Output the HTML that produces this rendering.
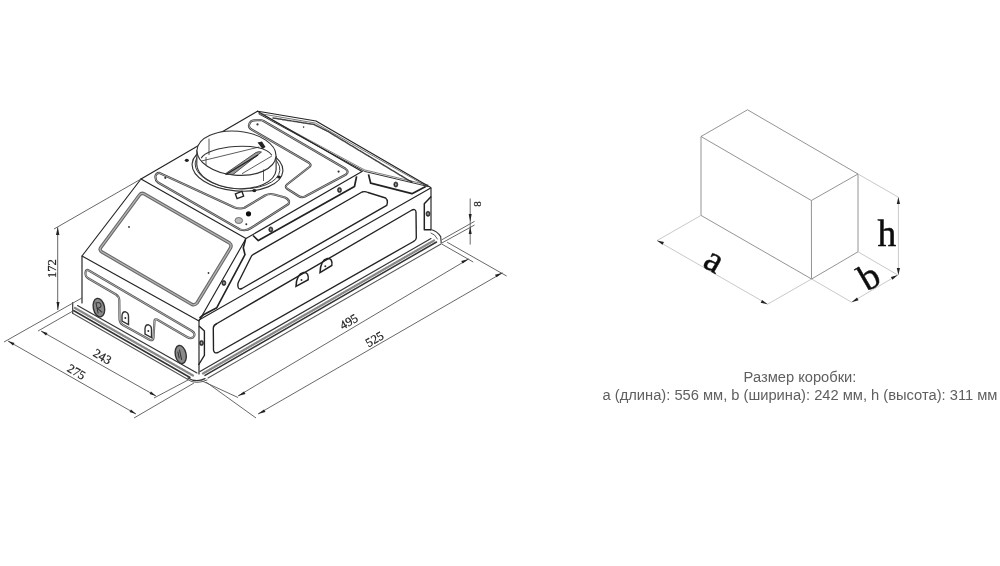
<!DOCTYPE html>
<html><head><meta charset="utf-8">
<style>
html,body{margin:0;padding:0;background:#fff;width:1000px;height:566px;overflow:hidden}
svg{position:absolute;left:0;top:0}
</style></head><body>
<svg width="1000" height="566" viewBox="0 0 1000 566">
<defs><filter id="bl" x="-5%" y="-5%" width="110%" height="110%"><feGaussianBlur stdDeviation="0.4"/></filter>
<filter id="bl2" x="-5%" y="-5%" width="110%" height="110%"><feGaussianBlur stdDeviation="0.3"/></filter></defs>
<g filter="url(#bl)">
<g fill="none" stroke="#222" stroke-width="1.15" stroke-linejoin="round" stroke-linecap="round">
<!-- top panel -->
<polyline points="141,179 257.5,111.2 362,171.5"/>
<polyline points="141,179 246,238.5 362,171.5"/>
<!-- front slope -->
<polyline points="141,179 82,256 199,321 246,238.5"/>
<!-- front vertical face -->
<polyline points="82,256 82,303"/>
<line x1="199" y1="321" x2="199" y2="374"/>
<!-- right face top edge -->
<line x1="199" y1="320" x2="430.7" y2="188"/>
<line x1="431" y1="188" x2="431" y2="230"/>
<!-- raised back plate -->
<polyline points="257.5,111.2 264,112.2 316,121 430.7,187.5"/>
<polyline points="259,113.3 264,114.3 315.5,123.1 427,186.5" stroke="#555" stroke-width="0.80"/>
<polyline points="273,118 314,124.5 328,131.5 409,180.5 412,182" stroke="#444" stroke-width="1.49" stroke-dasharray="1.5 0.8"/>
<polyline points="259,114 362,170 365,171.5 428,186.5" stroke-width="0.92"/>
<polyline points="261,114 362,168.5 365,170 428,185" stroke-width="0.57"/>
</g>



<!-- top panel plates -->
<g fill="none" stroke-linejoin="round">
<path d="M155.5,176 Q156,173 159,172.8 L234,207.2 Q239.5,209.5 244.5,207.8 L265,195.5 Q269.5,193.2 274,194.5 L285,197.5 Q290.5,200 288.5,204 L251,228 Q246,231.5 240,229.5 L158,182.5 Q155,180 155.5,176 Z" stroke="#444" stroke-width="2.18"/><path d="M155.5,176 Q156,173 159,172.8 L234,207.2 Q239.5,209.5 244.5,207.8 L265,195.5 Q269.5,193.2 274,194.5 L285,197.5 Q290.5,200 288.5,204 L251,228 Q246,231.5 240,229.5 L158,182.5 Q155,180 155.5,176 Z" stroke="#d0d0d0" stroke-width="0.69"/>
<path d="M249,125 Q250,120.5 254,120.3 L260.7,120 Q262,120.2 263.5,121 L345.5,168.8 Q349.5,171.5 346,174.5 L305,196.5 Q301.5,198 298.5,196 L287.5,189 Q284.5,186.8 287,184.5 L310,166.5 Q311.5,164.5 309,162.8 L252,129.8 Q248.5,128 249,125 Z" stroke="#444" stroke-width="2.18"/><path d="M249,125 Q250,120.5 254,120.3 L260.7,120 Q262,120.2 263.5,121 L345.5,168.8 Q349.5,171.5 346,174.5 L305,196.5 Q301.5,198 298.5,196 L287.5,189 Q284.5,186.8 287,184.5 L310,166.5 Q311.5,164.5 309,162.8 L252,129.8 Q248.5,128 249,125 Z" stroke="#d0d0d0" stroke-width="0.69"/>
</g>
<g fill="#333">
<circle cx="165.3" cy="177.8" r="1.1"/>
<circle cx="257.5" cy="124.4" r="1.1"/>
<circle cx="338.6" cy="171.6" r="1.1"/>
<circle cx="303.6" cy="127.1" r="0.8"/>
<circle cx="248.5" cy="213.8" r="2.6" fill="#111"/>
<circle cx="246.3" cy="224.3" r="1"/>
</g>
<ellipse cx="238.8" cy="220.5" rx="3.8" ry="3" fill="#bbb" stroke="#666" stroke-width="0.92"/>
<!-- duct -->
<g fill="none" stroke="#333" stroke-width="1.15">
<ellipse cx="237.5" cy="167.5" rx="45.5" ry="23.5" transform="rotate(5 237.5 167.5)"/>
<ellipse cx="237.5" cy="166.8" rx="42.5" ry="21.8" transform="rotate(5 237.5 166.8)" stroke-width="0.92"/>
<path d="M197,150 L196.8,163 A39.6,22 5 0 0 276.1,170 L276.1,156" fill="#fff"/>
<ellipse cx="236.5" cy="153.2" rx="39.6" ry="22" transform="rotate(5 236.5 153.2)" fill="#fff"/>
<path d="M201.2,158.2 C207,146 262,140 271.9,155.3" stroke-width="1.03"/>
<line x1="209" y1="138.6" x2="209" y2="155" stroke-width="0.80"/>
<line x1="206" y1="157" x2="206" y2="165" stroke-width="0.80"/>
<line x1="263.5" y1="169.5" x2="263.5" y2="181" stroke-width="0.80"/>
<line x1="201.5" y1="161" x2="259.2" y2="147" stroke-width="0.80"/>
<line x1="242" y1="173.7" x2="271.9" y2="156" stroke-width="0.80"/>
<path d="M225,174 L256,152.5 Q259,151 261.5,152 L233,174.5 Z" fill="#999" stroke-width="0.80"/>
<path d="M226,174.5 L258,155" stroke="#222" stroke-width="1.38"/>
</g>
<g fill="#222">
<path d="M257.5,142.5 L262,141.5 L265.5,147 L262.5,149 Z"/>
<ellipse cx="186.8" cy="160.3" rx="2" ry="1.6"/>
<ellipse cx="279" cy="177" rx="2" ry="1.6"/>
<ellipse cx="254.3" cy="190.6" rx="2" ry="1.6"/>
</g>
<rect x="236" y="192.5" width="7" height="5" fill="none" stroke="#222" stroke-width="1.38" transform="rotate(-20 239.5 195)"/>
<!-- front slope window band -->
<path d="M139.5,195 Q141.5,192.5 144,193.8 L229.5,243 Q232,245 230.5,248 L197,303 Q195,305.5 192,304.5 L102,252 Q99,250 100.8,247.5 Z" fill="none" stroke="#6a6a6a" stroke-width="3.45"/><path d="M139.5,195 Q141.5,192.5 144,193.8 L229.5,243 Q232,245 230.5,248 L197,303 Q195,305.5 192,304.5 L102,252 Q99,250 100.8,247.5 Z" fill="none" stroke="#b5b5b5" stroke-width="1.26"/>
<circle cx="129" cy="227" r="0.9" fill="#333"/>
<circle cx="208.5" cy="273" r="0.9" fill="#333"/>
<!-- front slope right side bracket -->
<g fill="none" stroke="#222" stroke-linejoin="round">
<polyline points="245.5,239.5 243.3,247.7 245,254.7 216.8,307.7 203.5,314.8 199.5,318" stroke-width="1.61"/>
<ellipse cx="223.9" cy="283" rx="2" ry="2.6" fill="#333" stroke="#222" stroke-width="0.69"/><ellipse cx="223.9" cy="283" rx="0.8" ry="1.2" fill="#aaa" stroke="none"/>
<!-- bracket 1 along L1 -->
<polyline points="253,235.5 258.3,240.6 354.5,186.5 356.6,176.4" stroke-width="1.72"/>
<!-- bracket 2 on back -->
<polyline points="368.5,174.4 370.7,183.2 412,193.7 425.7,186.5" stroke-width="1.72"/>
<ellipse cx="339.5" cy="190" rx="2" ry="2.6" fill="#333" stroke="#222" stroke-width="0.69"/><ellipse cx="339.5" cy="190" rx="0.8" ry="1.2" fill="#aaa" stroke="none"/>
<ellipse cx="395.8" cy="184.5" rx="2" ry="2.6" fill="#333" stroke="#222" stroke-width="0.69"/><ellipse cx="395.8" cy="184.5" rx="0.8" ry="1.2" fill="#aaa" stroke="none"/>
<ellipse cx="270.8" cy="229.5" rx="2" ry="2.6" fill="#333" stroke="#222" stroke-width="0.69"/><ellipse cx="270.8" cy="229.5" rx="0.8" ry="1.2" fill="#aaa" stroke="none"/>
<!-- window 1 slot on chamfer -->
<path d="M253,254.7 L362,192 Q365,191 368,192.5 L385.6,198 Q388.5,200.5 386.7,205.4 L242,288.5 Q238.5,290 238,286.5 Q237.5,284 238.5,282 L251,257 Q251.5,255.5 253,254.7 Z" stroke-width="1.38"/>
<!-- window 2 on vertical face -->
<path d="M217,323.5 L412,210 Q415.5,208.5 416,212 L416.3,238 Q416,240.5 413.5,241.5 L218,352.5 Q214,354 213.5,350 L213.3,328 Q213.5,325 217,323.5 Z" stroke-width="1.38"/>
<!-- tab right back -->
<polyline points="431.2,196.4 424.3,203.8 424.3,229.7 431,229.7" stroke-width="1.49"/>
<ellipse cx="428" cy="213.8" rx="2" ry="2.6" fill="#333" stroke="#222" stroke-width="0.69"/><ellipse cx="428" cy="213.8" rx="0.8" ry="1.2" fill="#aaa" stroke="none"/>
<!-- tab front right -->
<polyline points="199,326 204.4,331 204.4,355.4 198.5,365" stroke-width="1.38"/>
<ellipse cx="201.5" cy="343" rx="2" ry="2.6" fill="#333" stroke="#222" stroke-width="0.69"/><ellipse cx="201.5" cy="343" rx="0.8" ry="1.2" fill="#aaa" stroke="none"/>
</g>
<!-- arch icons on right face -->
<g fill="none" stroke="#222" stroke-width="1.49">
<path d="M296,286.4 L308.2,279.7 Q309,272 303.5,272.5 Q296.5,274 296,286.4 Z"/>
<path d="M320,272.6 L331.8,265.5 Q332.8,258 327.3,258.5 Q320.5,260 320,272.6 Z"/>
</g>
<g fill="#333"><circle cx="301.5" cy="280" r="1"/><circle cx="325.3" cy="266.2" r="1"/></g>
<!-- front face profile -->
<g fill="none"><path d="M88,270 L192,331 Q196.5,334 193,337.5 Q190.5,339 187,337 L157,319.5 Q154.5,318.5 154.5,321 L153.5,338 Q153,341 150,340 L123,325 Q119.5,323 119.5,319 L119.3,300 Q119,296.5 116,294.5 L88.5,278.5 Q85,276.5 85.5,272.5 Q86,269.5 88,270 Z" stroke="#555" stroke-width="2.18"/><path d="M88,270 L192,331 Q196.5,334 193,337.5 Q190.5,339 187,337 L157,319.5 Q154.5,318.5 154.5,321 L153.5,338 Q153,341 150,340 L123,325 Q119.5,323 119.5,319 L119.3,300 Q119,296.5 116,294.5 L88.5,278.5 Q85,276.5 85.5,272.5 Q86,269.5 88,270 Z" stroke="#d5d5d5" stroke-width="0.69"/></g>
<g>
<g transform="rotate(-12 98.9 307.6)"><ellipse cx="98.9" cy="307.6" rx="5.6" ry="9.4" fill="#8a8a8a" stroke="#333" stroke-width="1.38"/>
<path d="M97,302 L97,313 M97,302.5 Q101.5,302 101.5,305.5 Q101.5,308 97.5,308 L101,313" fill="none" stroke="#333" stroke-width="1.03"/></g>
<g transform="rotate(-12 180.7 354.5)"><ellipse cx="180.7" cy="354.5" rx="5.4" ry="9.2" fill="#8a8a8a" stroke="#333" stroke-width="1.38"/>
<path d="M180.5,349.5 L180.5,360 M178.5,351 L178.5,358" fill="none" stroke="#333" stroke-width="1.03"/></g>
</g>
<g fill="none" stroke="#333" stroke-width="1.38">
<path d="M122,321 L122,315.5 Q122.5,311.5 125.5,311.8 Q128.5,312.5 128.5,316.5 L128.5,324.5 Z"/>
<path d="M145,334 L145,328.5 Q145.5,324.5 148.5,324.8 Q151.5,325.5 151.5,329.5 L151.5,337.5 Z"/>
</g>
<g fill="#333"><circle cx="125.3" cy="318" r="1"/><circle cx="148.3" cy="331" r="1"/></g>
<!-- flange front-left -->
<g fill="none" stroke="#333" stroke-linecap="round">
<polyline points="72.7,302.5 72.7,313.5" stroke-width="1.15"/>
<line x1="77.5" y1="305.5" x2="197" y2="373" stroke-width="1.15"/>
<line x1="75" y1="308" x2="193" y2="375.5" stroke="#888" stroke-width="2.30" stroke-dasharray="0.6 0.6"/>
<line x1="73.5" y1="310.5" x2="190" y2="377.5" stroke-width="1.49"/>
<line x1="73" y1="313.5" x2="188" y2="379.5" stroke="#555" stroke-width="1.03"/>
<path d="M188,378 Q196,383 205,378.6" stroke-width="1.26"/>
<path d="M188,379.8 Q196,385 207,380" stroke-width="0.80"/>
<!-- flange right -->
<line x1="200" y1="371.4" x2="431" y2="238.5" stroke-width="1.15"/>
<line x1="203" y1="373.5" x2="434" y2="240.5" stroke="#888" stroke-width="2.30" stroke-dasharray="0.6 0.6"/>
<line x1="205" y1="375.4" x2="436.5" y2="242" stroke-width="1.49"/>
<line x1="208" y1="378" x2="441" y2="244" stroke="#555" stroke-width="1.03"/>
<path d="M431.7,229.7 Q437,231 440.7,236.6 L441.2,243" stroke-width="1.15"/>
<path d="M431,233 Q435,234 437.5,239" stroke-width="0.80"/>
</g>
<!-- dimension lines -->
<g fill="none" stroke="#5a5a5a" stroke-width="0.92">
<line x1="141" y1="179" x2="54" y2="229"/>
<line x1="57.7" y1="227.2" x2="57.7" y2="310"/>
<line x1="82.2" y1="297.8" x2="4" y2="342"/>
<line x1="73.8" y1="310.5" x2="38" y2="331"/>
<line x1="8" y1="341" x2="136" y2="414"/>
<line x1="41" y1="331" x2="156" y2="396"/>
<line x1="188" y1="380" x2="154" y2="398"/>
<line x1="194" y1="383" x2="134" y2="418"/>
<line x1="200" y1="380" x2="238" y2="397.5"/>
<line x1="206" y1="382" x2="256" y2="418"/>
<line x1="238" y1="396" x2="468.7" y2="258.9"/>
<line x1="258" y1="414" x2="502.5" y2="272.8"/>
<line x1="441.7" y1="244" x2="473.2" y2="262"/>
<line x1="447.1" y1="242.2" x2="506.6" y2="276"/>
<line x1="441.8" y1="239.8" x2="474.6" y2="221.3"/>
<line x1="441.8" y1="243" x2="474.6" y2="225"/>
<line x1="470.2" y1="198.5" x2="470.2" y2="244.6"/>
</g>
<g fill="#222" stroke="none">
<!-- arrowheads -->
<polygon points="57.7,227.2 56,235 59.4,235"/>
<polygon points="58,310 56.5,302 59.5,302"/>
<polygon points="8,341 14.5,343 13,345.5"/>
<polygon points="136,414 129.5,412 131,409.5"/>
<polygon points="41,331 47.5,333 46,335.5"/>
<polygon points="156,396 149.5,394 151,391.5"/>
<polygon points="238,396 244,391.5 245.5,394"/>
<polygon points="258,414 264,409.5 265.5,412"/>
<polygon points="468.7,258.9 462.7,263.4 461.2,260.9"/>
<polygon points="502.5,272.8 496.5,277.3 495,274.8"/>
<polygon points="470.2,221.8 468.7,214 471.7,214"/>
<polygon points="470.2,226.5 468.7,234 471.7,234"/>
</g>
<g font-family="'Liberation Serif', serif" font-size="12.5" fill="#222" stroke="#222" stroke-width="0.23" text-anchor="middle">
<text transform="translate(56.3,268.6) rotate(-90)">172</text>
<text transform="translate(100.3,360.3) rotate(30)">243</text>
<text transform="translate(74.4,375.5) rotate(30)">275</text>
<text transform="translate(350.9,325.2) rotate(-30)">495</text>
<text transform="translate(376.6,342.7) rotate(-30)">525</text>
<text font-size="11" transform="translate(480.5,204) rotate(-90)">8</text>
</g>

</g>
<g filter="url(#bl2)">
<!-- box diagram -->
<g fill="none" stroke="#888" stroke-width="0.9">
<polyline points="701,215.4 701,136.5 747.5,109.8 858,174 858,251.8 811.6,279 701,215.4"/>
<polyline points="701,136.5 811.4,200.5 858,174"/>
<line x1="811.4" y1="200.5" x2="811.5" y2="279"/>
</g>
<g fill="none" stroke="#bbb" stroke-width="0.8">
<line x1="701" y1="215.4" x2="657" y2="240.6"/>
<line x1="811.6" y1="279" x2="767.6" y2="304.2"/>
<line x1="811.6" y1="279" x2="851.6" y2="302.2"/>
<line x1="858" y1="251.8" x2="897.8" y2="275"/>
<line x1="858" y1="174" x2="898" y2="197"/>
<line x1="657" y1="240.6" x2="767.6" y2="304.2"/>
<line x1="851.6" y1="302.2" x2="897.8" y2="275"/>
<line x1="898.4" y1="197" x2="898.4" y2="275"/>
</g>
<g fill="#222">
<polygon points="657,240.6 664,242 662.5,244.8"/>
<polygon points="767.6,304.2 760.6,302.8 762.1,300"/>
<polygon points="851.6,302.2 857,297.5 858.5,300.3"/>
<polygon points="897.8,275 892.4,279.7 890.9,276.9"/>
<polygon points="898.4,197 896.8,204 900,204"/>
<polygon points="898.4,275 896.8,268 900,268"/>
</g>
<g font-family="'Liberation Serif', serif" fill="#111" stroke="#111" stroke-width="0.5">
<text font-size="37" transform="translate(708.5,270) rotate(30)" text-anchor="middle">a</text>
<text font-size="37.5" transform="translate(886.8,246)" text-anchor="middle">h</text>
<text font-size="37" transform="translate(875,287) rotate(-30)" text-anchor="middle">b</text>
</g>
<g font-family="'Liberation Sans', sans-serif" font-size="14.7" fill="#606060" text-anchor="middle">
<text x="800" y="381.6">Размер коробки:</text>
<text x="800" y="399.5">a (длина): 556 мм, b (ширина): 242 мм, h (высота): 311 мм</text>
</g>

</g>
</svg>
</body></html>
